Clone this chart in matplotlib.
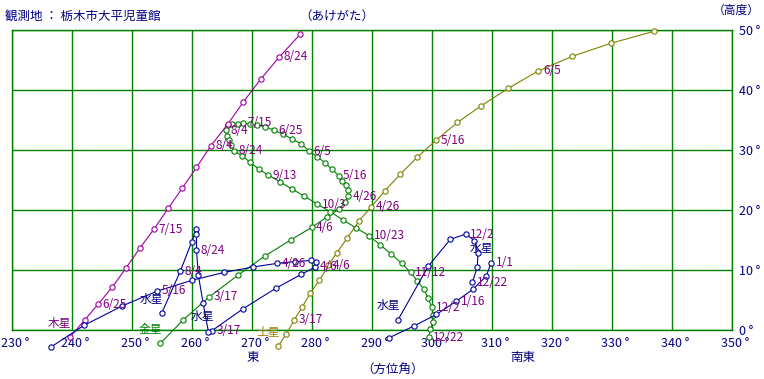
import matplotlib.pyplot as plt
from matplotlib.transforms import ScaledTranslation

plt.rcParams['font.family'] = ['Noto Sans CJK JP', 'DejaVu Sans']

W, H = 764, 379
NAVY = '#000080'
PURPLE = '#800080'

# 木星 6/15 から 5日おき
jupiter_az = [239.6, 242.1, 244.3, 246.7, 249.0, 251.3, 253.6, 256.0, 258.3, 260.7,
              263.1, 265.9, 268.5, 271.4, 274.5, 278.0]
jupiter_alt = [-1.2, 1.7, 4.3, 7.2, 10.4, 13.7, 16.8, 20.3, 23.6, 27.1,
               30.7, 34.3, 38.0, 41.8, 45.5, 49.3]
jupiter_label_idx = [2, 6, 10, 14]
jupiter_labels = ['6/25', '7/15', '8/4', '8/24']

# 金星 3/7 から 5日おき
venus_az = [254.7, 258.5, 262.8, 267.7, 272.2, 276.4, 279.9, 282.4, 284.4, 285.5,
            286.0, 286.0, 285.6, 285.0, 284.4, 283.3, 282.2, 280.8, 279.5, 278.2,
            276.7, 275.2, 273.6, 272.2, 270.8, 269.6, 268.5, 267.6, 266.7, 265.9,
            265.7, 265.8, 266.1, 266.5, 267.0, 268.3, 269.6, 271.1, 272.7, 274.6,
            276.6, 278.7, 280.8, 283.0, 285.2, 287.3, 289.5, 291.3, 293.1, 294.9,
            296.4, 297.5, 298.6, 299.3, 299.9, 300.2, 300.1, 299.7, 299.4]
venus_alt = [-2.2, 1.7, 5.5, 9.2, 12.4, 15.0, 17.1, 18.8, 20.1, 21.3,
             22.3, 23.3, 24.2, 24.9, 25.7, 26.8, 27.8, 28.9, 29.8, 31.0,
             31.8, 32.6, 33.3, 33.9, 34.1, 34.3, 34.5, 34.3, 34.3, 34.1,
             33.3, 32.4, 31.6, 30.8, 29.9, 29.0, 28.0, 26.8, 25.8, 24.7,
             23.5, 22.3, 21.0, 19.7, 18.3, 17.0, 15.7, 14.2, 12.7, 11.1,
             9.6, 8.2, 6.8, 5.3, 3.8, 2.5, 1.3, 0.1, -1.2]
venus_label_idx = [2, 6, 10, 14, 18, 22, 26, 30, 34, 38, 42, 46, 50, 54, 58]
venus_labels = ['3/17', '4/6', '4/26', '5/16', '6/5', '6/25', '7/15', '8/4',
                '8/24', '9/13', '10/3', '10/23', '11/12', '12/2', '12/22']

# 土星 3/7 から 5日おき
saturn_az = [274.3, 275.7, 277.0, 278.3, 279.7, 281.2, 282.7, 284.1, 285.8, 287.8,
             289.8, 292.1, 294.7, 297.5, 300.6, 304.2, 308.2, 312.7, 317.7, 323.3,
             329.8, 337.0]
saturn_alt = [-2.7, -0.6, 1.7, 3.8, 6.2, 8.3, 10.8, 12.9, 15.3, 18.2,
              20.5, 23.2, 26.0, 28.8, 31.6, 34.6, 37.4, 40.3, 43.2, 45.6,
              47.8, 49.8]
saturn_label_idx = [2, 6, 10, 14, 18]
saturn_labels = ['3/17', '4/6', '4/26', '5/16', '6/5']

# 水星 (4回の出現)
mercury1_az = [263.3, 268.4, 274.0, 278.2, 280.5, 280.7, 279.8, 277.1, 274.1, 270.1,
               265.3, 260.0, 254.2, 248.3, 242.0, 236.5]
mercury1_alt = [-0.1, 3.5, 7.0, 9.3, 10.5, 11.3, 11.6, 11.4, 11.1, 10.5,
                9.6, 8.3, 6.5, 4.0, 0.8, -2.8]
mercury1_label_idx = [0, 4, 8, 12]
mercury1_labels = ['3/17', '4/6', '4/26', '5/16']

mercury2_az = [254.9, 258.0, 259.9, 260.7, 260.7, 260.7, 261.0, 261.8, 262.7]
mercury2_alt = [2.8, 9.8, 14.7, 16.8, 16.0, 13.3, 9.2, 4.5, -0.4]
mercury2_label_idx = [1, 5]
mercury2_labels = ['8/4', '8/24']

mercury3_az = [294.3, 299.3, 303.0, 305.6, 307.0, 307.6, 307.5, 306.7]
mercury3_alt = [1.7, 10.6, 15.1, 16.0, 14.9, 12.8, 10.5, 8.0]
mercury3_label_idx = [3, 7]
mercury3_labels = ['12/2', '12/22']

mercury4_az = [309.8, 309.0, 306.8, 304.0, 300.7, 297.0, 292.8]
mercury4_alt = [11.2, 9.0, 6.8, 4.8, 2.6, 0.7, -1.3]
mercury4_label_idx = [0, 3]
mercury4_labels = ['1/1', '1/16']

x_ticks = list(range(230, 351, 10))
y_ticks = list(range(0, 51, 10))

fig = plt.figure(figsize=(W / 100, H / 100), dpi=100)
ax = fig.add_axes([12.3 / W, (H - 330) / H, 720 / W, 300 / H])
ax.set_xlim(230, 350)
ax.set_ylim(0, 50)

ax.set_xticks(x_ticks)
ax.set_xticklabels([f'{t} °' for t in x_ticks])
ax.set_yticks(y_ticks)
ax.set_yticklabels([f'{t} °' for t in y_ticks])
ax.yaxis.tick_right()
ax.tick_params(length=0, labelsize=9, colors=NAVY)
ax.tick_params(axis='x', pad=5)
ax.tick_params(axis='y', pad=5)
# 目盛りの文字を少し右へ
shift = ScaledTranslation(3 / 100, 0, fig.dpi_scale_trans)
for lab in ax.get_xticklabels():
    lab.set_transform(lab.get_transform() + shift)

ax.grid(True, color='#008000', linewidth=1.0)
for s in ax.spines.values():
    s.set_color('#008000')
    s.set_linewidth(1.0)


def draw_path(az, alt, color, idx, labels, name, name_color):
    ax.plot(az, alt, color=color, linewidth=0.8, marker='o', markersize=3.8,
            markerfacecolor='white', markeredgecolor=color, markeredgewidth=0.8,
            clip_on=False, zorder=3)
    for i, lab in zip(idx, labels):
        ax.annotate(lab, (az[i], alt[i]), xytext=(3.2, 0), textcoords='offset points',
                    ha='left', va='center', fontsize=8.5, color=PURPLE, zorder=5,
                    annotation_clip=False)
    # 星の名前は出だしの点の左上
    ax.annotate(name, (az[0], alt[0]), xytext=(1.2, 10), textcoords='offset points',
                ha='right', va='center', fontsize=8.5, color=name_color, zorder=5,
                annotation_clip=False)


draw_path(venus_az, venus_alt, '#008000', venus_label_idx, venus_labels, '金星', '#008000')
draw_path(saturn_az, saturn_alt, '#808000', saturn_label_idx, saturn_labels, '土星', '#a08000')
draw_path(jupiter_az, jupiter_alt, '#a000a0', jupiter_label_idx, jupiter_labels, '木星', PURPLE)
draw_path(mercury1_az, mercury1_alt, '#0000a0', mercury1_label_idx, mercury1_labels, '水星', NAVY)
draw_path(mercury2_az, mercury2_alt, '#0000a0', mercury2_label_idx, mercury2_labels, '水星', NAVY)
draw_path(mercury3_az, mercury3_alt, '#0000a0', mercury3_label_idx, mercury3_labels, '水星', NAVY)
draw_path(mercury4_az, mercury4_alt, '#0000a0', mercury4_label_idx, mercury4_labels, '水星', NAVY)

ax.text(270, -4.5, '東', ha='center', va='center', fontsize=9, color=NAVY)
ax.text(315, -4.5, '南東', ha='center', va='center', fontsize=9, color=NAVY)

fig.text(5 / W, 1 - 16 / H, '観測地 ： 栃木市大平児童館', ha='left', va='center', fontsize=9, color=NAVY)
fig.text(337 / W, 1 - 16 / H, '（あけがた）', ha='center', va='center', fontsize=9, color=NAVY)
fig.text(760 / W, 1 - 10 / H, '（高度）', ha='right', va='center', fontsize=8.5, color=NAVY)
fig.text(393 / W, 1 - 369 / H, '（方位角）', ha='center', va='center', fontsize=9, color=NAVY)

fig.savefig('out.png', dpi=100)
